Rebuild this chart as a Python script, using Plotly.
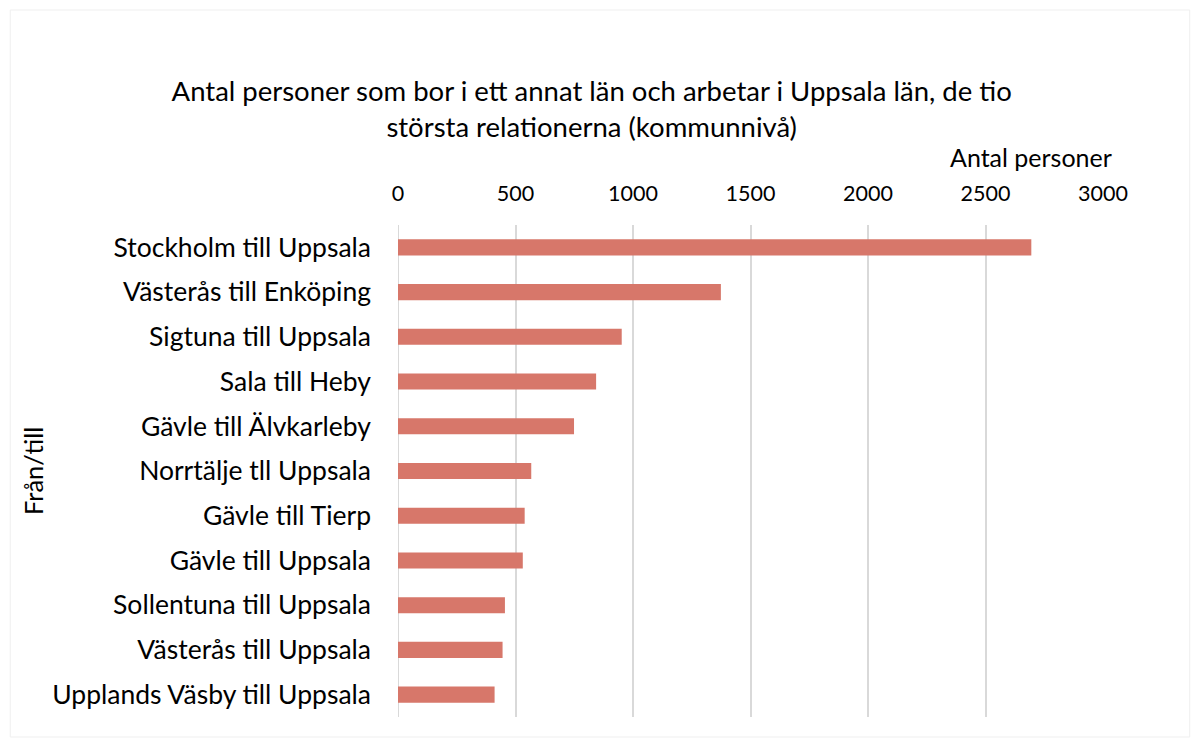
import plotly.graph_objects as go

categories = [
    "Stockholm till Uppsala",
    "Västerås till Enköping",
    "Sigtuna till Uppsala",
    "Sala till Heby",
    "Gävle till Älvkarleby",
    "Norrtälje tll Uppsala",
    "Gävle till Tierp",
    "Gävle till Uppsala",
    "Sollentuna till Uppsala",
    "Västerås till Uppsala",
    "Upplands Väsby till Uppsala",
]
values = [2695, 1374, 952, 843, 749, 567, 539, 531, 455, 445, 411]
x_ticks = [0, 500, 1000, 1500, 2000, 2500, 3000]

title_text = "Antal personer som bor i ett annat län och arbetar i Uppsala län, de tio<br>största relationerna (kommunnivå)"
x_title = "Antal personer"
y_title = "Från/till"

FONT = "Lato"

fig = go.Figure(
    go.Bar(
        x=values,
        y=categories,
        orientation="h",
        marker=dict(color="#D7776A", line=dict(width=0)),
        width=0.36,
    )
)

fig.update_layout(
    width=1201,
    height=747,
    paper_bgcolor="white",
    plot_bgcolor="white",
    margin=dict(l=390, r=106, t=217, b=38),
    showlegend=False,
    font=dict(family=FONT, color="#000000"),
    title=dict(
        text=title_text,
        x=0.486,
        xanchor="center",
        y=0.8755,
        yanchor="middle",
        font=dict(size=27.5, family=FONT, color="#000000"),
    ),
    xaxis=dict(
        side="top",
        range=[0, 3000],
        tickvals=x_ticks,
        showgrid=True,
        gridcolor="#D9D9D9",
        gridwidth=2,
        zeroline=False,
        showline=False,
        ticks="",
        tickfont=dict(size=21.5, family=FONT, color="#000000"),
        ticklabelstandoff=19,
    ),
    yaxis=dict(
        autorange="reversed",
        showgrid=False,
        zeroline=False,
        showline=False,
        ticks="",
        tickfont=dict(size=26.5, family=FONT, color="#000000"),
        ticklabelstandoff=26,
    ),
    shapes=[
        dict(
            type="line", xref="x", yref="paper",
            x0=0, x1=0, y0=0, y1=1.0,
            line=dict(color="#D9D9D9", width=2),
            layer="below",
        ),
        dict(
            type="rect", xref="paper", yref="paper",
            x0=-0.550, x1=1.123, y0=-0.0407, y1=1.437,
            line=dict(color="#EFEFEF", width=1),
            layer="below",
        ),
    ],
    annotations=[
        dict(
            text=x_title,
            xref="paper", yref="paper",
            x=0.898, y=1.138,
            xanchor="center", yanchor="middle",
            showarrow=False,
            font=dict(size=25, family=FONT, color="#000000"),
        ),
        dict(
            text=y_title,
            xref="paper", yref="paper",
            x=-0.5177, y=0.5,
            xanchor="center", yanchor="middle",
            textangle=-90,
            showarrow=False,
            font=dict(size=25.5, family=FONT, color="#000000"),
        ),
    ],
)

fig.write_html("out.html")
